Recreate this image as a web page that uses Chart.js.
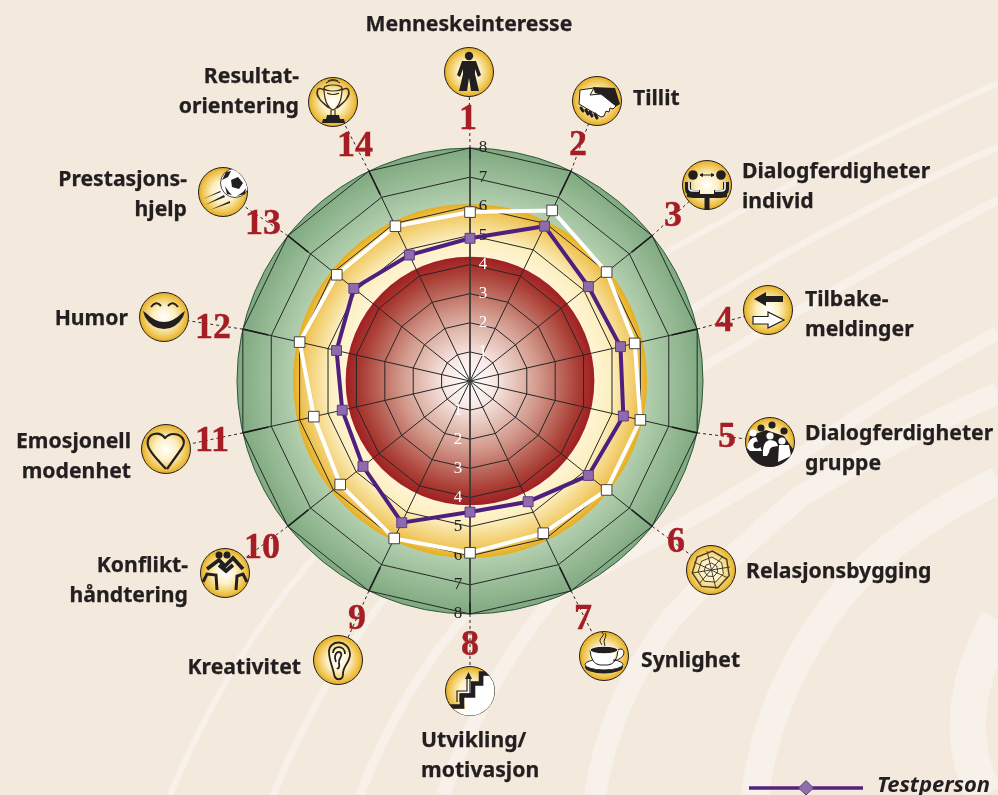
<!DOCTYPE html>
<html lang="no">
<head>
<meta charset="utf-8">
<title>Testperson</title>
<script src="https://cdn.jsdelivr.net/npm/chart.js@4"></script>
<style>
    html, body { margin: 0; padding: 0; background: #f4e9dd; overflow: hidden; }
    #wrap { position: relative; width: 998px; height: 795px; overflow: hidden; }
    #chart { position: absolute; left: 0; top: 0; }
    .label { position: absolute; font: 700 21.2px/29.5px "Noto Sans", sans-serif; color: #231f20; white-space: pre; -webkit-text-stroke: 0.25px #231f20; }
    .num { position: absolute; font: 700 36px/36px "Liberation Serif", serif; color: #a51e25; transform: translate(-50%, -50%); -webkit-text-stroke: 0.4px #a51e25; }
    .icon { position: absolute; width: 52px; height: 52px; overflow: visible; }
    #legendText { position: absolute; left: 877px; top: 769px; font: italic 700 22px/28px "Noto Sans", sans-serif; color: #231f20; }
    #legendLine { position: absolute; left: 745px; top: 776px; }
</style>
</head>
<body>
<div id="wrap">
    <canvas id="chart" width="998" height="795"></canvas>
    <div id="overlay"></div>
    <svg id="legendLine" width="122" height="19" viewBox="0 0 122 19">
        <line x1="4" y1="12" x2="118" y2="12" stroke="#55207f" stroke-width="3.5"/>
        <path d="M61,4.5 L68.5,12 L61,19 L53.5,12 Z" fill="#8f70ad" stroke="#5f3a8e"/>
    </svg>
    <div id="legendText">Testperson</div>
</div>

<script>
// 14 kompetanser, med klokka fra toppen
const categories = [
    "Menneskeinteresse", "Tillit", "Dialogferdigheter\nindivid", "Tilbake-\nmeldinger",
    "Dialogferdigheter\ngruppe", "Relasjonsbygging", "Synlighet", "Utvikling/\nmotivasjon",
    "Kreativitet", "Konflikt-\nhåndtering", "Emosjonell\nmodenhet", "Humor",
    "Prestasjons-\nhjelp", "Resultat-\norientering"
];
const testperson = [4.9, 5.9, 5.2, 5.3, 5.4, 5.2, 4.6, 4.5, 5.4, 4.7, 4.5, 4.7, 5.1, 4.8];
const referanse = [5.8, 6.5, 6.0, 5.8, 6.0, 6.0, 5.8, 5.9, 6.0, 5.7, 5.5, 6.0, 5.85, 5.9];
const tickValues = [1, 2, 3, 4, 5, 6, 7, 8];
const legendLabel = "Testperson";

// plassering av tekst og ikoner rundt diagrammet: [anker, x, y første linje]
const labelPlace = [
    ["c", 469, 23], ["l", 633, 97], ["l", 742, 170], ["l", 805, 298], ["l", 805, 432], ["l", 746, 570], ["l", 641, 659],
    ["l", 421, 739], ["r", 301, 666], ["r", 188, 564], ["r", 131, 440], ["r", 128, 317], ["r", 187, 178], ["r", 299, 75]
];
const numberPlace = [
    [468, 117], [578, 143], [673, 214], [724, 319], [727, 435], [676, 540], [583, 617],
    [470, 643], [357, 617], [262, 546], [212, 439], [213, 326], [263, 222], [355, 144]
];
const iconPlace = [
    [469, 72], [597, 101], [707, 185], [768, 310], [770, 442], [711, 570], [604, 656],
    [470, 691], [338, 660], [225, 573], [166, 449], [164, 317], [223, 192], [333, 102]
];
// lyse bånd i bakgrunnen: bredde, så punkter for kvadratiske kurver
const bands = [
    [6, 170, 795, 240, 630, 340, 530, 480, 385, 667, 252, 830, 160, 998, 83],
    [7, 273, 795, 330, 660, 400, 580, 550, 400, 707, 300, 850, 212, 998, 147],
    [9, 360, 795, 400, 690, 470, 610, 590, 460, 703, 367, 840, 285, 998, 200],
    [14, 443, 795, 490, 670, 560, 590, 680, 530, 807, 450, 900, 385, 998, 333],
    [22, 595, 795, 610, 700, 670, 620, 730, 555, 800, 497, 900, 435, 998, 393],
    [28, 755, 795, 770, 680, 850, 585, 900, 530, 998, 480],
    [36, 985, 795, 945, 720, 998, 620]
];

const k = "#231f20";
const ring = (r, n, off) => Array.from({ length: n }, (_, i) => {
    const a = off + i * 2 * Math.PI / n;
    return (r * Math.cos(a)).toFixed(1) + "," + (r * Math.sin(a)).toFixed(1);
}).join(" ");

const iconGlyphs = [
    // person
    `<circle cx="0" cy="-16" r="4.2" fill="${k}"/><path fill="${k}" d="M-7,-11 L7,-11 L12,3 L9,5 L6,-3 L6,2 L10,19 L2,19 L0,6 L-2,19 L-10,19 L-6,2 L-6,-3 L-9,5 L-12,3Z"/>`,
    // handtrykk
    `<path fill="${k}" d="M-4,-14 L18,-13 L23,3 L18,6 L5,-6 L-2,-8Z"/><path fill="#fff" stroke="${k}" d="M-17,-11 L-3,-13 L-7,-6 L4,-7 L19,5 L16,8 L13,7 L12,11 L9,10 L7,15 L4,16 L-18,3Z"/><path stroke="${k}" stroke-width="3" stroke-linecap="round" d="M-16,7 L-14,10 M-11,9 L-9,13 M-7,11 L-5,15 M-2,13 L0,17"/>`,
    // to personer ved bord
    `<circle cx="-14" cy="-10" r="4.8" fill="${k}"/><circle cx="14" cy="-10" r="4.8" fill="${k}"/><path stroke="${k}" stroke-width="1" d="M-7,-10 H7 M-7,-10 l2.5,-1.5 v3Z M7,-10 l-2.5,-1.5 v3Z"/><path fill="none" stroke="${k}" stroke-width="6" d="M-19,-3 V4 Q-19,8 -14,8 H-7 M19,-3 V4 Q19,8 14,8 H7"/><path fill="none" stroke="#fff" stroke-width="1.6" d="M-18,-3 V3 Q-18,6 -14,6 H-8 M18,-3 V3 Q18,6 14,6 H8"/><path fill="${k}" d="M-20,9 H20 V12 L14,13 H2.5 V25 H-2.5 V13 H-14 L-20,12Z"/>`,
    // piler
    `<path fill="${k}" d="M-14,-11 L-2,-18 L-2,-14 L15,-14 L15,-8 L-2,-8 L-2,-4Z"/><path fill="#fff" stroke="${k}" stroke-width="1.2" d="M16,10 L0,2 L0,6.5 L-15,6.5 L-15,14 L0,14 L0,18Z"/>`,
    // gruppe
    `<g clip-path="url(#clipIcon)"><path fill="${k}" d="M-25,25 V12 L-20,-6 L-4,-12 L14,-6 L25,10 V25Z"/><circle cx="-9" cy="-14" r="3.6" fill="${k}"/><circle cx="2" cy="-17" r="3.6" fill="${k}"/><circle cx="14" cy="-11" r="3.6" fill="${k}"/><circle cx="-17" cy="-9" r="3.6" fill="#fff"/><circle cx="0" cy="-6" r="3.6" fill="#fff"/><circle cx="12" cy="-1" r="3.6" fill="#fff"/><path fill="#fff" d="M-23,6 Q-22,-4 -14,-5 L-8,9 L-20,9Z M-7,14 Q-8,-1 0,-2 Q7,-2 8,4 L2,5 L-3,14Z M8,20 L9,3 L19,3 L21,14Z"/><circle cx="-13" cy="3" r="3.6" fill="${k}"/><circle cx="3" cy="9" r="3.6" fill="${k}"/></g>`,
    // nett
    `<g fill="none" stroke="#4b3d1c" stroke-width="1"><polygon stroke-width="1.4" points="${ring(19, 7, 0.3)}"/><polygon points="${ring(13, 7, 0.3)}"/><polygon points="${ring(7, 7, 0.3)}"/><path d="M-17,-8 L17,8 M-4,-19 L5,19 M12,-14 L-12,14 M19,-3 L-19,3"/></g>`,
    // kaffekopp
    `<ellipse cx="0" cy="11" rx="19" ry="6.5" fill="${k}"/><ellipse cx="0" cy="8.5" rx="19" ry="5.5" fill="#fff" stroke="${k}"/><path fill="#fff" stroke="${k}" d="M-14,-6 Q-13,8 -4,9 H4 Q13,8 14,-6Z M13,-6 Q20,-9 20,-3 Q19,3 9,5"/><ellipse cx="0" cy="-6" rx="14" ry="3.8" fill="${k}" stroke="#fff"/><path fill="none" stroke="${k}" d="M-2,-11 Q-6,-16 -2,-19 Q1,-22 -2,-24 M1,-10 Q-1,-15 1,-18 Q3,-21 1,-23"/>`,
    // trapp
    `<g clip-path="url(#clipIcon)"><path fill="#fff" d="M-16,25 V18 H-5 V7 H6 V-5 H14 V-15 H25 V25Z"/><path fill="none" stroke="${k}" stroke-width="4.5" d="M-25,15.5 H-8 V4.5 H3 V-7.5 H11 V-17.5 H25"/><path fill="none" stroke="${k}" stroke-width="1.2" d="M-13,11 V0 H-3 V-12 M-10,11 V3 H0 V-12"/><path fill="${k}" d="M-1.5,-19 L-5,-12 H2Z"/></g>`,
    // øre
    `<g fill="none" stroke="${k}" stroke-width="1.8"><path d="M-9,-8 C-9,-21 11,-21 12,-6 C12,3 5,5 5,14 C5,21 -3,21 -4,14 C-5,8 -9,0 -9,-8Z"/><path d="M-5,-7 C-5,-15 7,-15 7,-6 M-2,2 C-5,-6 0,-10 3,-7 C5,-3 0,-2 1,3 C2,8 0,9 -1,8"/></g>`,
    // brytere
    `<circle cx="-6" cy="-18" r="3.5" fill="${k}"/><circle cx="2" cy="-18" r="3.5" fill="${k}"/><g fill="none" stroke="${k}" stroke-width="3.8"><path d="M-18,-4 L-6,-13 L0,-7 L8,-15 L18,-4"/><path d="M-6,-8 L1,-2 L8,-8"/></g><g fill="none" stroke="${k}" stroke-width="3"><path d="M-22,9 L-18,1 L-9,2 L-8,17"/><path d="M22,9 L18,1 L12,3 L11,17"/></g>`,
    // hjerte
    `<path fill="none" stroke="${k}" stroke-width="2.2" stroke-linejoin="round" d="M1,20 L16,-1 C21,-9 15,-15 7,-15 C3,-15 1,-13 -1,-11 C-4,-15 -8,-16 -12,-15 C-19,-13 -20,-5 -16,1 C-12,8 -5,14 0,20"/>`,
    // smil
    `<path fill="${k}" d="M-21,-6 L-18,-4 Q0,14 18,-4 L21,-6 L19,0 Q12,12 0,12 Q-12,12 -19,0Z"/><path fill="none" stroke="${k}" stroke-width="2" d="M-13,-10 Q-8,-17 -3,-11 M4,-11 Q9,-17 14,-10"/>`,
    // ball
    `<g clip-path="url(#clipIcon)"><circle cx="12" cy="-9" r="14.5" fill="#fff" stroke="${k}" stroke-width="0.8"/><path fill="${k}" d="M8,-12 L15,-15 L20,-9 L16,-3 L9,-5Z M-1,-12 L3,-20 L8,-21 L5,-15Z M14,-22 L21,-20 L24,-15 L18,-17Z M2,-6 L6,0 L9,3 L4,2Z M14,4 L20,0 L23,-4 L22,2Z"/></g><path fill="${k}" d="M-20,7 L-3,-1 L-2,0Z M-18,13 L1,3 L2,5Z M-13,18 L7,9 L7,11Z"/>`,
    // pokal
    `<g fill="none" stroke="#3b2f1a" stroke-width="1.2"><path d="M-9,-14 C-9,2 -3,7 0,8 C3,7 9,2 9,-14"/><ellipse cx="0" cy="-14" rx="9" ry="3"/><path d="M-7,-19 Q0,-24 7,-19 M-5,-21 Q0,-24 5,-21 M-6,-9 Q0,-6 6,-9"/><path stroke-width="1.6" d="M-9,-12 C-17,-17 -17,-8 -14,-4 C-12,0 -7,3 -4,6 M9,-12 C17,-17 17,-8 14,-4 C12,0 7,3 4,6"/><path d="M-2,8 V15 M2,8 V15"/></g><path fill="${k}" d="M-6,13 H6 L7,17 H11 L12,21 H-11 L-10,17 H-7Z"/>`
];

// bakgrunn, soner, stiplede linjer og tall på aksen tegnes rundt Chart.js sitt rutenett
const backdrop = {
    id: "backdrop",
    beforeDraw(chart) {
        const ctx = chart.ctx;
        const scale = chart.scales.r;
        const cx = scale.xCenter, cy = scale.yCenter;
        const rad = v => scale.getDistanceFromCenterForValue(v);

        ctx.save();
        ctx.fillStyle = "#f4e9dd";
        ctx.fillRect(0, 0, chart.width, chart.height);

        // lyse bånd
        ctx.strokeStyle = "#f8f1ea";
        bands.forEach(b => {
            ctx.lineWidth = b[0];
            ctx.beginPath();
            ctx.moveTo(b[1], b[2]);
            for (let i = 3; i < b.length; i += 4) {
                ctx.quadraticCurveTo(b[i], b[i + 1], b[i + 2], b[i + 3]);
            }
            ctx.stroke();
        });

        const disc = (r, stops, inner) => {
            const g = ctx.createRadialGradient(cx, cy, inner, cx, cy, r);
            stops.forEach(([at, c]) => g.addColorStop(at, c));
            ctx.fillStyle = g;
            ctx.beginPath();
            ctx.arc(cx, cy, r, 0, Math.PI * 2);
            ctx.fill();
        };
        disc(rad(8), [[0, "#b4d0b0"], [1, "#7fa980"]], rad(6));
        ctx.strokeStyle = "#2f5a3c";
        ctx.lineWidth = 1;
        ctx.stroke();
        disc(rad(6.08), [[0, "#fef5d6"], [0.35, "#fcefc0"], [0.85, "#efc456"], [1, "#e7ae1c"]], rad(4.2));
        disc(rad(4.27), [[0, "#ffffff"], [0.2, "#f8e9e4"], [0.55, "#d29a8c"], [0.88, "#a93c33"], [1, "#a11f22"]], 0);

        // stiplede linjer ut til ikonene
        ctx.strokeStyle = "#2b2b2b";
        ctx.lineWidth = 1;
        ctx.setLineDash([3, 3]);
        categories.forEach((c, i) => {
            const p = scale.getPointPositionForValue(i, 8);
            ctx.beginPath();
            ctx.moveTo(p.x, p.y);
            ctx.lineTo(iconPlace[i][0], iconPlace[i][1]);
            ctx.stroke();
        });
        ctx.restore();
    },
    beforeDatasetsDraw(chart) {
        const ctx = chart.ctx;
        const scale = chart.scales.r;
        ctx.save();

        // kraftigere ytterste del av eikene
        ctx.strokeStyle = "#1c1c1c";
        ctx.lineWidth = 1.6;
        categories.forEach((c, i) => {
            const a = scale.getPointPositionForValue(i, i % 7 === 0 ? 7.6 : 7.1);
            const b = scale.getPointPositionForValue(i, 8);
            ctx.beginPath();
            ctx.moveTo(a.x, a.y);
            ctx.lineTo(b.x, b.y);
            ctx.stroke();
        });
        // loddrett akse
        ctx.strokeStyle = "rgba(60,60,60,0.75)";
        ctx.lineWidth = 2;
        const top = scale.getPointPositionForValue(0, 7.6);
        const bot = scale.getPointPositionForValue(7, 7.6);
        ctx.beginPath();
        ctx.moveTo(top.x, top.y);
        ctx.lineTo(bot.x, bot.y);
        ctx.stroke();

        ctx.font = '17px "Liberation Serif", serif';
        ctx.textAlign = "center";
        ctx.textBaseline = "middle";
        tickValues.forEach(v => {
            ctx.fillStyle = v <= 4 ? "#ffffff" : "#222222";
            const up = scale.getPointPositionForValue(0, v);
            const down = scale.getPointPositionForValue(7, v);
            ctx.fillText(String(v), up.x + 13, up.y);
            ctx.fillText(String(v), down.x - 12, down.y);
        });
        ctx.restore();
    }
};

new Chart(document.getElementById("chart"), {
    type: "radar",
    data: {
        labels: categories,
        datasets: [
            {
                label: legendLabel,
                data: testperson,
                borderColor: "#4f1f80",
                borderWidth: 4,
                fill: false,
                pointStyle: "rect",
                pointRadius: 7,
                pointBackgroundColor: "#8e6cab",
                pointBorderColor: "#5f3a8e",
                pointBorderWidth: 1
            },
            {
                label: "Referanse",
                data: referanse,
                borderColor: "#ffffff",
                borderWidth: 4,
                fill: false,
                pointStyle: "rect",
                pointRadius: 7.5,
                pointBackgroundColor: "#ffffff",
                pointBorderColor: "#444444",
                pointBorderWidth: 1
            }
        ]
    },
    options: {
        responsive: false,
        animation: false,
        layout: { padding: { left: 237, right: 295, top: 148, bottom: 181 } },
        plugins: { legend: { display: false }, tooltip: { enabled: false } },
        scales: {
            r: {
                min: 0,
                max: 8,
                ticks: { stepSize: 1, display: false, showLabelBackdrop: false },
                pointLabels: { display: false },
                grid: { color: "#262626", lineWidth: 1 },
                angleLines: { color: "#262626", lineWidth: 1 }
            }
        }
    },
    plugins: [backdrop]
});

// tekst, tall og ikoner legges over lerretet
const overlay = document.getElementById("overlay");
let html = `<svg width="0" height="0" style="position:absolute"><defs>
    <radialGradient id="gold"><stop offset="0" stop-color="#ffffff"/><stop offset="0.45" stop-color="#fdf0c4"/><stop offset="0.85" stop-color="#eec34c"/><stop offset="1" stop-color="#e4ab20"/></radialGradient>
    <clipPath id="clipIcon"><circle r="24.5"/></clipPath></defs></svg>`;
categories.forEach((name, i) => {
    const [anchor, x, y] = labelPlace[i];
    const shift = anchor === "c" ? "translateX(-50%)" : anchor === "r" ? "translateX(-100%)" : "";
    const align = anchor === "r" ? "right" : "left";
    html += `<div class="label" style="left:${x}px;top:${y - 15}px;text-align:${align};transform:${shift}">${name}</div>`;
    html += `<div class="num" style="left:${numberPlace[i][0]}px;top:${numberPlace[i][1]}px">${i + 1}</div>`;
    html += `<svg class="icon" viewBox="-26 -26 52 52" style="left:${iconPlace[i][0] - 26}px;top:${iconPlace[i][1] - 26}px"><circle r="24.5" fill="url(#gold)" stroke="${k}" stroke-width="1"/>${iconGlyphs[i]}</svg>`;
});
overlay.innerHTML = html;
</script>
</body>
</html>
